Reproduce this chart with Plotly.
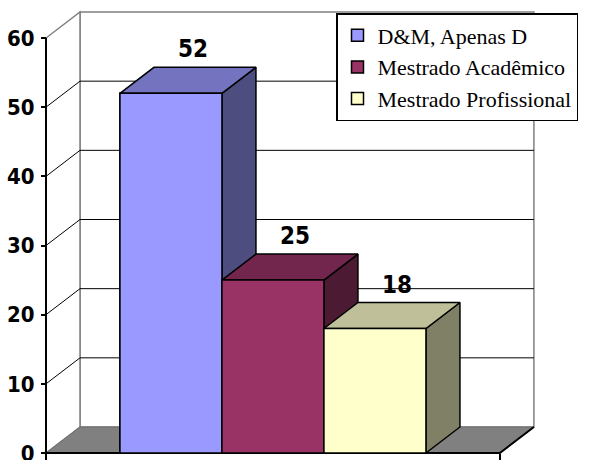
import plotly.graph_objects as go

# ---- data ----
categories = ["D&M, Apenas D", "Mestrado Acadêmico", "Mestrado Profissional"]
values = [52, 25, 18]
y_ticks = [0, 10, 20, 30, 40, 50, 60]
front_colors = ["#9999FF", "#993366", "#FFFFCC"]
top_colors = ["#7373BF", "#73264D", "#BFBF99"]
side_colors = ["#4D4D80", "#4D1A33", "#808066"]

# ---- geometry (style) ----
W, H = 594, 460
AX_X, AX_Y = 46, 453          # pixel position of the front origin
PX_X = 102.0                  # pixels per x unit (one bar width)
PX_Y = 415.0 / 60             # pixels per value unit
GAP = 0.725                   # gap (x units) on each side of the bars
FLOOR_W = 2 * GAP + len(values)
DX = 34 / PX_X                # 3D depth offset in x units
DY = 26 / PX_Y                # 3D depth offset in value units
Y_TOP = max(y_ticks)
NUM_FONT = "DejaVu Sans Condensed, DejaVu Sans"

fig = go.Figure()

# legend entries (front faces, real bars)
for i, (name, v) in enumerate(zip(categories, values)):
    fig.add_trace(go.Bar(
        x=[GAP + i + 0.5], y=[v], width=1, name=name,
        marker=dict(color=front_colors[i], line=dict(color="black", width=1.5)),
        hoverinfo="skip", legendgroup=name,
    ))

# 3D faces in painter's order
for i, v in enumerate(values):
    x0 = GAP + i
    x1 = x0 + 1
    faces = [
        ([x1, x1 + DX, x1 + DX, x1, x1], [0, DY, v + DY, v, 0], side_colors[i]),
        ([x0, x1, x1 + DX, x0 + DX, x0], [v, v, v + DY, v + DY, v], top_colors[i]),
        ([x0, x1, x1, x0, x0], [0, 0, v, v, 0], front_colors[i]),
    ]
    for xs, ys, c in faces:
        fig.add_trace(go.Scatter(
            x=xs, y=ys, mode="lines", fill="toself", fillcolor=c,
            line=dict(color="black", width=1.5), showlegend=False, hoverinfo="skip",
        ))

shapes = []
# back wall
shapes.append(dict(type="rect", x0=DX, x1=FLOOR_W + DX, y0=DY, y1=Y_TOP + DY,
                   fillcolor="white", line=dict(color="#808080", width=1.5), layer="below"))
# left wall
shapes.append(dict(type="path", path=f"M0,0 L{DX},{DY} L{DX},{Y_TOP + DY} L0,{Y_TOP} Z",
                   fillcolor="white", line=dict(color="#808080", width=1.5), layer="below"))
# gridlines
for t in y_ticks[1:-1]:
    shapes.append(dict(type="path", path=f"M0,{t} L{DX},{t + DY} L{FLOOR_W + DX},{t + DY}",
                       line=dict(color="black", width=1), layer="below"))
# floor
shapes.append(dict(type="path", path=f"M0,0 L{FLOOR_W},0 L{FLOOR_W + DX},{DY} L{DX},{DY} Z",
                   fillcolor="#808080", line=dict(color="#6E6E6E", width=1), layer="below"))
# floor front & right edges, value axis line
shapes.append(dict(type="path", path=f"M0,0 L{FLOOR_W},0 L{FLOOR_W + DX},{DY}",
                   line=dict(color="black", width=2), layer="below"))
shapes.append(dict(type="line", x0=0, x1=0, y0=0, y1=Y_TOP,
                   line=dict(color="black", width=2), layer="below"))

annotations = []
for i, v in enumerate(values):
    annotations.append(dict(
        x=GAP + i + 0.5 + DX * 0.65, y=v + DY, text=str(v), showarrow=False,
        yanchor="middle", yshift=18,
        font=dict(family=NUM_FONT, size=24, color="black", weight="bold"),
    ))

fig.update_layout(
    width=W, height=H,
    margin=dict(l=0, r=0, t=0, b=0, autoexpand=False),
    paper_bgcolor="white", plot_bgcolor="white",
    barmode="overlay",
    shapes=shapes, annotations=annotations,
    xaxis=dict(range=[-AX_X / PX_X, (W - AX_X) / PX_X], anchor="free", position=(H - AX_Y) / H,
               tickvals=[0, FLOOR_W], ticks="outside", ticklen=7, tickwidth=1.5, tickcolor="black",
               showticklabels=False, showgrid=False, zeroline=False, showline=False,
               fixedrange=True, automargin=False),
    yaxis=dict(range=[-(H - AX_Y) / PX_Y, AX_Y / PX_Y], anchor="free", position=AX_X / W,
               tickvals=y_ticks, ticktext=[str(t) for t in y_ticks],
               ticks="outside", ticklen=5, tickwidth=1.5, tickcolor="black", ticklabelstandoff=2,
               ticklabeloverflow="allow",
               tickfont=dict(family=NUM_FONT, size=22, color="black", weight="bold"),
               showgrid=False, zeroline=False, showline=False, fixedrange=True, automargin=False),
    legend=dict(x=336 / W, y=1 - 13 / H, xanchor="left", yanchor="top",
                bgcolor="white", bordercolor="black", borderwidth=1.5,
                font=dict(family="Liberation Serif", size=22, color="black"),
                traceorder="normal", tracegroupgap=2),
    showlegend=True,
)

fig.write_html("out.html")
